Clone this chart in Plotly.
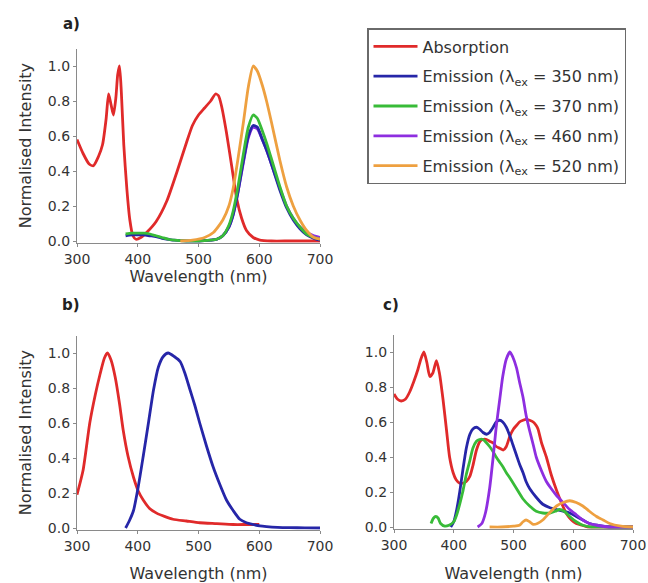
import plotly.graph_objects as go

# ---------------- data ----------------
# Panel a
a_abs_x = [300, 310, 320, 327, 335, 342, 348, 352, 356, 360, 364, 367, 370, 373, 377, 382, 387, 392, 397,
           405, 415, 430, 448, 465, 480, 490, 500, 510, 520, 528, 533, 538, 546, 555, 563, 571, 579, 590,
           601, 620, 650, 700]
a_abs_y = [0.58, 0.50, 0.44, 0.43, 0.48, 0.55, 0.70, 0.84, 0.78, 0.72, 0.82, 0.95, 1.0, 0.85, 0.55, 0.30,
           0.12, 0.03, 0.01, 0.02, 0.05, 0.11, 0.23, 0.40, 0.56, 0.66, 0.72, 0.76, 0.80, 0.84, 0.83, 0.77,
           0.62, 0.42, 0.24, 0.13, 0.06, 0.02, 0.005, 0.0, 0.0, 0.0]

a_em_x = [380, 390, 400, 410, 420, 430, 440, 450, 460, 480, 500, 520, 530, 540, 550, 557, 565, 574, 582,
          590, 597, 605, 612, 620, 634, 645, 656, 667, 678, 690, 700]
a_em350_y = [0.03, 0.035, 0.035, 0.035, 0.03, 0.025, 0.015, 0.01, 0.005, 0.0, 0.0, 0.005, 0.01, 0.03, 0.08,
             0.15, 0.28, 0.46, 0.60, 0.66, 0.65, 0.58, 0.52, 0.44, 0.29, 0.19, 0.12, 0.07, 0.035, 0.015, 0.005]
a_em370_y = [0.04, 0.045, 0.045, 0.045, 0.04, 0.03, 0.02, 0.01, 0.005, 0.0, 0.0, 0.005, 0.01, 0.03, 0.09,
             0.17, 0.31, 0.50, 0.65, 0.72, 0.70, 0.63, 0.56, 0.47, 0.31, 0.20, 0.13, 0.08, 0.04, 0.02, 0.01]
a_em460_x = [500, 520, 530, 540, 550, 557, 565, 574, 582, 590, 597, 605, 612, 620, 634, 645, 656, 667, 678,
             690, 700]
a_em460_y = [0.0, 0.005, 0.01, 0.03, 0.08, 0.15, 0.28, 0.45, 0.59, 0.65, 0.64, 0.58, 0.52, 0.44, 0.30, 0.20,
             0.13, 0.08, 0.05, 0.03, 0.02]
a_em520_x = [470, 490, 510, 525, 540, 550, 557, 565, 574, 582, 590, 597, 605, 612, 620, 634, 645, 656, 667,
             678, 690, 700]
a_em520_y = [0.0, 0.005, 0.02, 0.05, 0.12, 0.20, 0.30, 0.47, 0.68, 0.88, 1.0, 0.97, 0.89, 0.80, 0.68, 0.46,
             0.31, 0.20, 0.12, 0.06, 0.02, 0.01]

# Panel b
b_abs_x = [300, 310, 321, 330, 338, 345, 350, 356, 363, 370, 376, 384, 393, 401, 409, 420, 431, 445, 458,
           480, 502, 530, 557, 580, 600]
b_abs_y = [0.19, 0.33, 0.60, 0.76, 0.88, 0.97, 1.0, 0.96, 0.86, 0.71, 0.56, 0.41, 0.29, 0.21, 0.16, 0.11,
           0.085, 0.065, 0.05, 0.04, 0.03, 0.025, 0.02, 0.02, 0.02]
b_em_x = [380, 386, 393, 401, 409, 418, 426, 434, 442, 450, 460, 470, 478, 486, 494, 502, 513, 524, 535,
          546, 557, 568, 579, 590, 601, 612, 630, 650, 675, 700]
b_em_y = [0.0, 0.04, 0.10, 0.24, 0.41, 0.61, 0.79, 0.92, 0.98, 1.0, 0.98, 0.95, 0.88, 0.79, 0.70, 0.60,
          0.47, 0.35, 0.25, 0.16, 0.10, 0.05, 0.03, 0.02, 0.012, 0.008, 0.004, 0.002, 0.001, 0.0]

# Panel c
c_abs_x = [300, 306, 312, 319, 326, 333, 340, 345, 350, 355, 360, 365, 371, 376, 382, 388, 393, 399, 404,
           410, 415, 421, 427, 432, 438, 444, 449, 455, 460, 466, 471, 477, 483, 488, 494, 500, 505, 510,
           516, 521, 527, 533, 538, 541, 547, 555, 563, 572, 580, 588, 597, 605, 615, 625, 650, 700]
c_abs_y = [0.76, 0.73, 0.72, 0.73, 0.77, 0.83, 0.90, 0.96, 1.0, 0.94, 0.86, 0.88, 0.95, 0.88, 0.73, 0.55,
           0.40, 0.31, 0.27, 0.25, 0.25, 0.26, 0.29, 0.35, 0.44, 0.49, 0.50, 0.50, 0.49, 0.48, 0.46, 0.45,
           0.44, 0.46, 0.52, 0.56, 0.58, 0.60, 0.61, 0.615, 0.61, 0.60, 0.58, 0.56, 0.48, 0.40, 0.30, 0.21,
           0.14, 0.08, 0.04, 0.02, 0.01, 0.0, 0.0, 0.0]
c_em350_x = [395, 400, 405, 410, 415, 421, 427, 432, 438, 443, 449, 455, 460, 466, 471, 477, 482, 488, 494,
             499, 505, 510, 516, 521, 527, 538, 549, 561, 572, 583, 594, 605, 616, 627, 640, 660, 700]
c_em350_y = [0.0, 0.03, 0.10, 0.20, 0.32, 0.45, 0.53, 0.56, 0.57, 0.56, 0.54, 0.53, 0.54, 0.57, 0.60, 0.61,
             0.60, 0.57, 0.52, 0.47, 0.41, 0.36, 0.31, 0.26, 0.22, 0.17, 0.13, 0.11, 0.10, 0.09, 0.08, 0.06,
             0.04, 0.02, 0.01, 0.0, 0.0]
c_em370_x = [362, 366, 370, 374, 378, 385, 392, 400, 405, 410, 415, 421, 427, 432, 438, 443, 449, 455, 460,
             466, 471, 477, 483, 488, 494, 505, 516, 527, 538, 549, 561, 570, 577, 585, 594, 605, 616, 630,
             650, 700]
c_em370_y = [0.02, 0.05, 0.06, 0.05, 0.02, 0.005, 0.01, 0.03, 0.07, 0.13, 0.20, 0.30, 0.38, 0.45, 0.49,
             0.50, 0.50, 0.48, 0.46, 0.43, 0.40, 0.37, 0.34, 0.31, 0.28, 0.22, 0.16, 0.12, 0.09, 0.08, 0.08,
             0.09, 0.10, 0.09, 0.06, 0.03, 0.01, 0.0, 0.0, 0.0]
c_em460_x = [440, 447, 453, 460, 466, 471, 477, 482, 488, 494, 499, 505, 510, 516, 521, 527, 533, 538, 547,
             555, 563, 572, 583, 594, 605, 616, 627, 639, 660, 700]
c_em460_y = [0.0, 0.02, 0.08, 0.22, 0.40, 0.57, 0.73, 0.86, 0.96, 1.0, 0.97, 0.91, 0.83, 0.74, 0.64, 0.55,
             0.47, 0.40, 0.32, 0.26, 0.22, 0.18, 0.14, 0.10, 0.07, 0.04, 0.02, 0.01, 0.0, 0.0]
c_em520_x = [460, 480, 500, 510, 516, 521, 527, 533, 540, 549, 560, 572, 583, 594, 605, 616, 627, 639, 650,
             661, 680, 700]
c_em520_y = [0.0, 0.0, 0.005, 0.01, 0.03, 0.04, 0.03, 0.015, 0.02, 0.04, 0.08, 0.12, 0.14, 0.15, 0.14, 0.12,
             0.09, 0.06, 0.04, 0.02, 0.005, 0.0]

x_ticks = [300, 400, 500, 600, 700]
y_ticks = [0.0, 0.2, 0.4, 0.6, 0.8, 1.0]

names = ["Absorption",
         "Emission (λ<sub>ex</sub> = 350 nm)",
         "Emission (λ<sub>ex</sub> = 370 nm)",
         "Emission (λ<sub>ex</sub> = 460 nm)",
         "Emission (λ<sub>ex</sub> = 520 nm)"]
colors = ["#e02a2a", "#2626a8", "#38bb38", "#8e2ee0", "#eea040"]

# ---------------- figure ----------------
W, H = 648, 583
FONT = "DejaVu Sans"
TXT = "#333333"
AX = "#8a8a8a"
YMIN, YMAX = -0.01, 1.1
PPU = 175.0  # pixels per intensity unit

def xdom(p0, p1):
    return [p0 / W, p1 / W]

def ydom(zero_px):
    bottom = zero_px - YMIN * PPU
    top = zero_px - YMAX * PPU
    return [1 - bottom / H, 1 - top / H]

fig = go.Figure()
lw = 2.8

def add(x, y, idx, xa, ya, show, rank):
    fig.add_trace(go.Scatter(
        x=x, y=y, mode="lines", name=names[idx], legendgroup=f"g{idx}",
        line=dict(color=colors[idx], width=lw, shape="spline", smoothing=0.6),
        xaxis=xa, yaxis=ya, showlegend=show, legendrank=rank, hoverinfo="skip"))

# panel a (purple drawn underneath)
add(a_em460_x, a_em460_y, 3, "x", "y", True, 4)
add(a_abs_x, a_abs_y, 0, "x", "y", True, 1)
add(a_em_x, a_em350_y, 1, "x", "y", True, 2)
add(a_em_x, a_em370_y, 2, "x", "y", True, 3)
add(a_em520_x, a_em520_y, 4, "x", "y", True, 5)
# panel b
add(b_abs_x, b_abs_y, 0, "x2", "y2", False, 1)
add(b_em_x, b_em_y, 1, "x2", "y2", False, 2)
# panel c
add(c_abs_x, c_abs_y, 0, "x3", "y3", False, 1)
add(c_em350_x, c_em350_y, 1, "x3", "y3", False, 2)
add(c_em370_x, c_em370_y, 2, "x3", "y3", False, 3)
add(c_em460_x, c_em460_y, 3, "x3", "y3", False, 4)
add(c_em520_x, c_em520_y, 4, "x3", "y3", False, 5)

def xax(dom, anchor, standoff):
    return dict(domain=dom, anchor=anchor, range=[300, 700], tickvals=x_ticks,
                showline=True, linecolor=AX, linewidth=1.2, ticks="outside", ticklen=3,
                tickcolor=AX, showgrid=False, zeroline=False, automargin=False,
                tickfont=dict(family=FONT, size=14, color=TXT),
                title=dict(text="Wavelength (nm)", standoff=standoff,
                           font=dict(family=FONT, size=16, color=TXT)))

def yax(dom, anchor, title):
    d = dict(domain=dom, anchor=anchor, range=[YMIN, YMAX], tickvals=y_ticks, tickformat=".1f",
             showline=True, linecolor=AX, linewidth=1.2, ticks="outside", ticklen=3,
             tickcolor=AX, showgrid=False, zeroline=False, automargin=False,
             tickfont=dict(family=FONT, size=14, color=TXT))
    if title:
        d["title"] = dict(text="Normalised Intensity", standoff=12,
                          font=dict(family=FONT, size=16, color=TXT))
    return d

fig.update_layout(
    width=W, height=H, autosize=False,
    margin=dict(l=0, r=0, t=0, b=0),
    paper_bgcolor="white", plot_bgcolor="white",
    font=dict(family=FONT, color=TXT),
    xaxis=xax(xdom(77, 320), "y", 3),
    yaxis=yax(ydom(241), "x", True),
    xaxis2=xax(xdom(77, 320), "y2", 24),
    yaxis2=yax(ydom(528), "x2", True),
    xaxis3=xax(xdom(394, 633), "y3", 23),
    yaxis3=yax(ydom(527), "x3", False),
    legend=dict(x=367 / W, y=1 - 28 / H, xanchor="left", yanchor="top",
                bgcolor="white", bordercolor="#6a6a6a", borderwidth=1.5,
                font=dict(family=FONT, size=16, color=TXT),
                itemwidth=44,
                tracegroupgap=6, traceorder="grouped"),
    showlegend=True,
)

for txt, px, py in [("a)", 71, 24), ("b)", 71, 305), ("c)", 391, 305)]:
    fig.add_annotation(text=f"<b>{txt}</b>", x=px / W, y=1 - py / H, xref="paper", yref="paper",
                       showarrow=False, xanchor="center", yanchor="middle",
                       font=dict(family=FONT, size=15, color="#222222"))

fig.write_html("out.html")
